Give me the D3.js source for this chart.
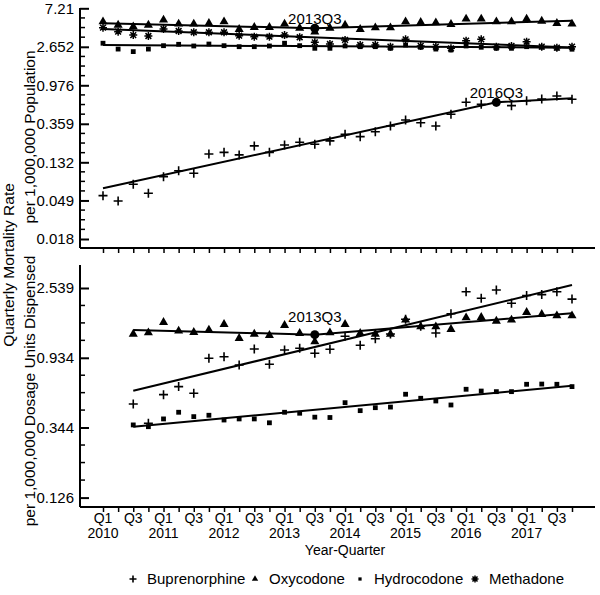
<!DOCTYPE html>
<html><head><meta charset="utf-8">
<script src="https://cdn.jsdelivr.net/npm/d3@7/dist/d3.min.js"></script>
<style>
body{margin:0;background:#fff}
svg{display:block}
text{font-family:"Liberation Sans",Arial,sans-serif;fill:#000}
</style>
</head><body>
<svg id="chart" width="600" height="595"></svg>
<script>
// ---------------- DATA ----------------
const quarters = ["2010Q1","2010Q2","2010Q3","2010Q4","2011Q1","2011Q2","2011Q3","2011Q4",
  "2012Q1","2012Q2","2012Q3","2012Q4","2013Q1","2013Q2","2013Q3","2013Q4",
  "2014Q1","2014Q2","2014Q3","2014Q4","2015Q1","2015Q2","2015Q3","2015Q4",
  "2016Q1","2016Q2","2016Q3","2016Q4","2017Q1","2017Q2","2017Q3","2017Q4"];
const tickQuarterLabels = ["Q1","Q3","Q1","Q3","Q1","Q3","Q1","Q3","Q1","Q3","Q1","Q3","Q1","Q3","Q1","Q3"];
const tickYearLabels = ["2010","2011","2012","2013","2014","2015","2016","2017"];
const topYTicks = [7.21, 2.652, 0.976, 0.359, 0.132, 0.049, 0.018];
const bottomYTicks = [2.539, 0.934, 0.344, 0.126];
const seriesNames = ["Buprenorphine","Oxycodone","Hydrocodone","Methadone"];

// Top panel: quarterly mortality rate per 1,000,000 population (2010Q1-2017Q4)
const topBuprenorphine = [0.0555,0.0483,0.0746,0.0590,0.0909,0.106,0.0993,0.164,0.171,0.160,0.202,0.171,0.207,0.222,0.211,0.230,
  0.273,0.257,0.292,0.339,0.396,0.369,0.339,0.459,0.627,0.595,0.632,0.575,0.654,0.684,0.739,0.678];
const topOxycodone = [5.09,4.67,4.47,4.67,5.32,4.80,4.80,4.88,5.09,4.18,4.40,4.40,4.80,4.32,3.90,4.32,
  4.67,4.18,4.36,4.36,5.09,5.01,4.96,4.76,5.46,5.46,5.09,5.09,5.46,5.18,4.88,4.80];
const topHydrocodone = [2.91,2.50,2.34,2.50,2.73,2.83,2.71,2.85,2.73,2.66,2.66,2.71,2.91,2.73,2.55,2.55,
  2.71,2.66,2.66,2.55,2.78,2.62,2.50,2.44,2.71,2.62,2.55,2.55,2.66,2.62,2.55,2.49];
const topMethadone = [4.36,3.93,3.60,3.51,4.21,4.00,3.87,3.87,3.87,3.54,3.45,3.45,3.60,3.40,2.98,2.85,
  3.17,2.78,2.78,2.66,3.22,2.71,2.66,2.55,3.11,3.22,2.66,2.71,3.03,2.66,2.59,2.66];

// Bottom panel: mortality per 1,000,000 dosage units dispensed (2010Q3-2017Q4)
const bottomQuarters = quarters.slice(2);
const bottomBuprenorphine = [0.482,0.366,0.551,0.618,0.562,0.927,0.949,0.843,1.060,0.851,1.045,1.070,0.996,1.055,
  1.271,1.117,1.228,1.313,1.622,1.467,1.332,1.754,2.408,2.191,2.467,2.040,2.280,2.310,2.408,2.166];
const bottomOxycodone = [1.313,1.339,1.553,1.371,1.346,1.391,1.509,1.235,1.313,1.289,1.488,1.327,1.176,1.339,
  1.509,1.327,1.313,1.313,1.606,1.459,1.459,1.405,1.659,1.669,1.582,1.606,1.793,1.742,1.707,1.707];
const bottomHydrocodone = [0.357,0.348,0.389,0.428,0.402,0.410,0.383,0.389,0.389,0.368,0.428,0.422,0.399,0.397,
  0.491,0.438,0.457,0.461,0.554,0.523,0.503,0.475,0.595,0.580,0.575,0.575,0.639,0.641,0.639,0.618];

// Joinpoint trend lines [quarter, fitted value]
const topBuprenorphineTrend = [["2010Q1",0.0673],["2016Q3",0.627],["2017Q4",0.696]];
const topOxycodoneTrend = [["2010Q1",4.88],["2013Q3",4.29],["2017Q4",5.23]];
const topHydrocodoneTrend = [["2010Q1",2.78],["2017Q4",2.59]];
const topMethadoneTrend = [["2010Q1",4.21],["2017Q4",2.61]];
const bottomBuprenorphineTrend = [["2010Q3",0.583],["2017Q4",2.651]];
const bottomOxycodoneTrend = [["2010Q3",1.391],["2013Q3",1.301],["2017Q4",1.767]];
const bottomHydrocodoneTrend = [["2010Q3",0.348],["2017Q4",0.626]];

// Joinpoints labelled
const topJoinpoints = [["2013Q3",4.29],["2016Q3",0.627]];
const bottomJoinpoints = [["2013Q3",1.301]];

// ---------------- DRAW ----------------
const FONT = '"Liberation Sans",Arial,sans-serif';
const svg = d3.select("#chart");
const xLeft = 80, xRight = 595;
const x = d3.scaleLinear().domain([0, quarters.length - 1]).range([103, 572]);
const xq = q => x(quarters.indexOf(q));

const topPanel = {y0: 8.3, y1: 239, axisTop: 8, axisBottom: 248, labelGap: 4};
const botPanel = {y0: 288, y1: 497.6, axisTop: 265, axisBottom: 507, labelGap: 13};
const yTop = d3.scaleLog().domain([topYTicks[0], topYTicks[topYTicks.length-1]]).range([topPanel.y0, topPanel.y1]);
const yBot = d3.scaleLog().domain([bottomYTicks[0], bottomYTicks[bottomYTicks.length-1]]).range([botPanel.y0, botPanel.y1]);

const symbols = {
  Buprenorphine: (g, s) => g.append("path").attr("d", `M${-s},0H${s}M0,${-s}V${s}`).attr("stroke","#000").attr("stroke-width",1.6).attr("fill","none"),
  Oxycodone: (g, s) => g.append("path").attr("d", d3.symbol(d3.symbolTriangle, s*s*2.6)()).attr("fill","#000"),
  Hydrocodone: (g, s) => g.append("path").attr("d", d3.symbol(d3.symbolSquare, s*s*2.0)()).attr("fill","#000"),
  Methadone: (g, s) => {
    const a = s*0.72;
    g.append("path").attr("d", `M0,${-s}V${s}M${-s},0H${s}M${-a},${-a}L${a},${a}M${-a},${a}L${a},${-a}`)
     .attr("stroke","#000").attr("stroke-width",1.5).attr("fill","none");
  }
};

function drawYAxis(scale, ticks, panel) {
  const g = svg.append("g").attr("transform", `translate(${xLeft},0)`);
  g.append("line").attr("x1",0).attr("x2",0).attr("y1",panel.axisTop).attr("y2",panel.axisBottom)
    .attr("stroke","#000").attr("stroke-width",2);
  const lt = ticks.map(Math.log);
  for (let k = 0; k < lt.length - 1; k++) {
    for (let m = 1; m < 4; m++) {
      const v = Math.exp(lt[k] + (lt[k+1]-lt[k]) * m / 4);
      g.append("line").attr("x1",0).attr("x2",5).attr("y1",scale(v)).attr("y2",scale(v)).attr("stroke","#000").attr("stroke-width",1.5);
    }
  }
  const ax = d3.axisLeft(scale).tickValues(ticks).tickFormat(d => String(d)).tickSize(-9).tickPadding(6);
  const a = svg.append("g").attr("transform", `translate(${xLeft},0)`).call(ax);
  a.select(".domain").remove();
  a.selectAll(".tick line").attr("stroke","#000").attr("stroke-width",2);
  a.selectAll(".tick text").attr("font-size",15).attr("font-family",FONT).attr("fill","#000");
}

function drawXAxis(yPos, withLabels) {
  const g = svg.append("g").attr("transform", `translate(0,${yPos})`);
  g.append("line").attr("x1",xLeft).attr("x2",xRight).attr("y1",0).attr("y2",0).attr("stroke","#000").attr("stroke-width",2);
  const ax = d3.axisBottom(x).tickValues(d3.range(quarters.length)).tickSize(5).tickSizeOuter(0).tickFormat("");
  const a = g.append("g").call(ax);
  a.select(".domain").remove();
  a.selectAll(".tick line").attr("stroke","#000").attr("stroke-width",1.5);
  if (withLabels) {
    tickQuarterLabels.forEach((lab, k) => {
      g.append("text").attr("x", x(k*2)).attr("y", 16).attr("text-anchor","middle").attr("font-size",14).text(lab);
    });
    tickYearLabels.forEach((yr) => {
      g.append("text").attr("x", xq(yr + "Q1")).attr("y", 31).attr("text-anchor","middle").attr("font-size",14).text(yr);
    });
  }
}

function drawSeries(scale, qs, vals, name, size) {
  qs.forEach((q, i) => {
    const g = svg.append("g").attr("transform", `translate(${xq(q)},${scale(vals[i])})`);
    symbols[name](g, size);
  });
}
function drawTrend(scale, pts) {
  const line = d3.line().x(d => xq(d[0])).y(d => scale(d[1]));
  svg.append("path").attr("d", line(pts)).attr("fill","none").attr("stroke","#000").attr("stroke-width",2);
}
function drawJoin(scale, jp, gap) {
  jp.forEach(([q, v]) => {
    svg.append("circle").attr("cx", xq(q)).attr("cy", scale(v)).attr("r", 4.5).attr("fill","#000");
    svg.append("text").attr("x", xq(q)).attr("y", scale(v) - gap).attr("text-anchor","middle").attr("font-size",15).text(q);
  });
}

// Axes
drawYAxis(yTop, topYTicks, topPanel);
drawYAxis(yBot, bottomYTicks, botPanel);
drawXAxis(topPanel.axisBottom, false);
drawXAxis(botPanel.axisBottom, true);

// Top panel
drawTrend(yTop, topOxycodoneTrend);
drawTrend(yTop, topMethadoneTrend);
drawTrend(yTop, topHydrocodoneTrend);
drawTrend(yTop, topBuprenorphineTrend);
drawSeries(yTop, quarters, topOxycodone, "Oxycodone", 3.7);
drawSeries(yTop, quarters, topMethadone, "Methadone", 4);
drawSeries(yTop, quarters, topHydrocodone, "Hydrocodone", 3.4);
drawSeries(yTop, quarters, topBuprenorphine, "Buprenorphine", 4.5);
drawJoin(yTop, topJoinpoints, topPanel.labelGap);

// Bottom panel
drawTrend(yBot, bottomOxycodoneTrend);
drawTrend(yBot, bottomHydrocodoneTrend);
drawTrend(yBot, bottomBuprenorphineTrend);
drawSeries(yBot, bottomQuarters, bottomOxycodone, "Oxycodone", 3.7);
drawSeries(yBot, bottomQuarters, bottomHydrocodone, "Hydrocodone", 3.4);
drawSeries(yBot, bottomQuarters, bottomBuprenorphine, "Buprenorphine", 4.5);
drawJoin(yBot, bottomJoinpoints, botPanel.labelGap);

// Axis titles
svg.append("text").attr("transform","translate(14,265) rotate(-90)").attr("text-anchor","middle").attr("font-size",15.5).text("Quarterly Mortality Rate");
svg.append("text").attr("transform","translate(35,137) rotate(-90)").attr("text-anchor","middle").attr("font-size",15.5).text("per 1,000,000 Population");
svg.append("text").attr("transform","translate(35,391) rotate(-90)").attr("text-anchor","middle").attr("font-size",15.5).text("per 1,000,000 Dosage Units Dispensed");
svg.append("text").attr("x", (xq("2013Q3")+xq("2014Q3"))/2).attr("y", 555).attr("text-anchor","middle").attr("font-size",14).text("Year-Quarter");

// Legend
const legendX = [133, 255, 360, 475];
const legendSizes = [3.5, 2.6, 2.3, 3.5];
seriesNames.forEach((n, k) => {
  const g = svg.append("g").attr("transform", `translate(${legendX[k]},${579})`);
  symbols[n](g, legendSizes[k]);
  svg.append("text").attr("x", legendX[k] + 14).attr("y", 584).attr("font-size",15).text(n);
});
</script>
</body></html>
